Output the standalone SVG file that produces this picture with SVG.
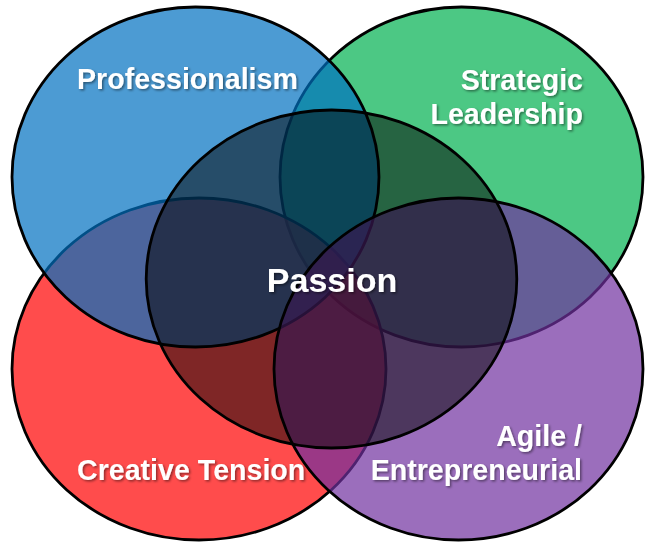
<svg xmlns="http://www.w3.org/2000/svg" width="646" height="544" viewBox="0 0 646 544">
  <defs>
    <filter id="shadow" x="-10%" y="-30%" width="120%" height="160%">
      <feDropShadow dx="1.5" dy="1.5" stdDeviation="1" flood-color="#000" flood-opacity="0.45"/>
    </filter>
  </defs>
  <style>
    .ring { stroke: #000; stroke-width: 2.8; }
    .green { fill: #00B050; fill-opacity: 0.7; }
    .red { fill: #FF0000; fill-opacity: 0.7; }
    .blue { fill: #0070C0; fill-opacity: 0.7; }
    .purple { fill: #7030A0; fill-opacity: 0.7; }
    .center { fill: #000; fill-opacity: 0.5; }
    .label { font-family: "Liberation Sans", Arial, sans-serif; font-weight: bold; font-size: 28.6px; fill: #fff; filter: url(#shadow); }
    .big { font-size: 34px; }
  </style>
  <rect width="646" height="544" fill="#fff"/>
  <g id="strategic-leadership">
    <ellipse class="ring green" cx="461.5" cy="177" rx="181.5" ry="170"/>
    <text class="label" x="583" y="90" text-anchor="end">Strategic</text>
    <text class="label" x="583" y="124" text-anchor="end">Leadership</text>
  </g>
  <g id="creative-tension">
    <ellipse class="ring red" cx="199" cy="369" rx="187" ry="171"/>
    <text class="label" x="77" y="480">Creative Tension</text>
  </g>
  <g id="professionalism">
    <ellipse class="ring blue" cx="195.5" cy="177" rx="183.5" ry="170"/>
    <text class="label" x="77" y="89">Professionalism</text>
  </g>
  <g id="agile-entrepreneurial">
    <ellipse class="ring purple" cx="458.5" cy="369" rx="184.5" ry="171"/>
    <text class="label" x="582" y="446" text-anchor="end">Agile /</text>
    <text class="label" x="582" y="480" text-anchor="end">Entrepreneurial</text>
  </g>
  <g id="passion">
    <ellipse class="ring center" cx="331.5" cy="279" rx="185.3" ry="169"/>
    <text class="label big" x="332" y="292" text-anchor="middle">Passion</text>
  </g>
</svg>
